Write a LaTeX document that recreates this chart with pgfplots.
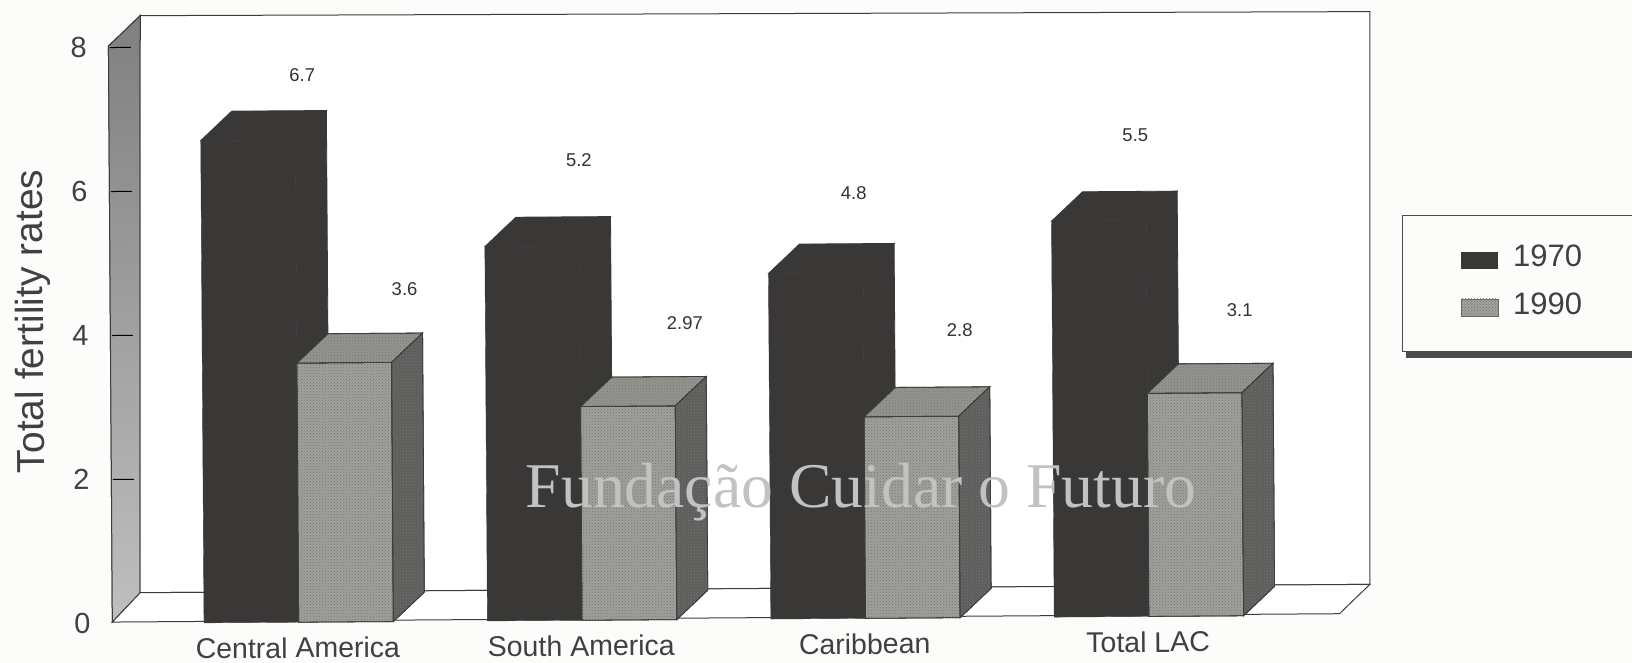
\documentclass[border=0pt]{standalone}
\usepackage{fontspec}
\usepackage{pgfplots}
\usepackage{pgfplotstable}
\usetikzlibrary{patterns}
\pgfplotsset{compat=1.18}
\setmainfont{Liberation Sans}
\newfontfamily\serifmark{Liberation Serif}
\definecolor{darkbar}{HTML}{3A3737}
\definecolor{lightbar}{HTML}{A0A09C}
\definecolor{lighttop}{HTML}{95958F}
\definecolor{lightside}{HTML}{5E5E5C}
\definecolor{edge}{HTML}{3C3C3C}
\definecolor{paper}{HTML}{FCFCFA}

\pgfplotstableread{
x  y
0  6.7
1  5.2
2  4.8
3  5.5
}\seventy
\pgfplotstableread{
x  y
0  3.6
1  2.97
2  2.8
3  3.1
}\ninety

% depth of the extruded bars in data units, and width of a bar
\def\dx{0.11}
\def\dy{0.405}
\def\bw{0.334}

% top and right faces of an extruded bar: left edge, value, two colours, outline, grain
\newcommand{\barfaces}[6]{%
  \pgfmathsetmacro{\xa}{#1+0.0035}%
  \pgfmathsetmacro{\xb}{#1+0.0035+\bw}%
  \pgfmathsetmacro{\xc}{#1+0.0035+\bw+\dx}%
  \pgfmathsetmacro{\xd}{#1+0.0035+\dx}%
  \pgfmathsetmacro{\yt}{#2+\dy}%
  \addplot[draw=#5,line width=0.8pt,fill=#3,#6] coordinates {(\xa,#2)(\xd,\yt)(\xc,\yt)(\xb,#2)} -- cycle;
  \addplot[draw=#5,line width=0.8pt,fill=#4,#6] coordinates {(\xb,0)(\xb,#2)(\xc,\yt)(\xc,\dy)} -- cycle;
}
\tikzset{
  vallabel/.style={text=black!80,font=\fontsize{18.5}{20}\selectfont},
  grain/.style={postaction={pattern=crosshatch dots,pattern color=black!55}},
}

\begin{document}
\begin{tikzpicture}[x=1pt,y=1pt]
\useasboundingbox (0,0) rectangle (1632,663);
\fill[paper] (0,0) rectangle (1632,663);
\begin{scope}[rotate around={0.39:(112,41)},transform shape]
\begin{axis}[
  at={(0,0)},anchor=south west,
  scale only axis,width=1632pt,height=663pt,
  xmin=-1.0504,xmax=4.708,ymin=-0.5486,ymax=8.66,
  axis line style={draw=none},
  axis x line*=bottom,axis y line*=left,
  major tick length=0pt,minor tick num=0,
  xtick={0,1,2,3},
  xticklabels={Central America,South America,Caribbean,Total LAC},
  ytick={0,2,4,6,8},
  /pgf/number format/assume math mode=true,
  ticklabel style={text=black!75},
  xticklabel style={font=\fontsize{28.5}{30}\selectfont,yshift=28pt},
  yticklabel style={font=\fontsize{29}{30}\selectfont,xshift=94pt},
  ylabel={Total fertility rates},
  every axis y label/.style={at={(axis description cs:0.0215,0.516)},rotate=90,anchor=center,
    font=\fontsize{39}{40}\selectfont,text=black!75},
  clip=false,
]
% left wall, back wall and floor
\addplot[draw=edge,line width=1pt,top color=black!50,bottom color=black!25,grain] coordinates
  {(-0.654,0.02)(-0.654,8.02)(-0.541,8.44)(-0.555,0.425)} -- cycle;
\addplot[draw=edge,line width=1pt,fill=white] coordinates
  {(-0.541,8.44)(3.798,8.38)(3.784,0.425)(-0.555,0.425)} -- cycle;
\addplot[draw=edge,line width=1pt,fill=white] coordinates
  {(-0.654,0.02)(-0.555,0.425)(3.784,0.425)(3.676,0.02)} -- cycle;
% short rules on the left wall
\addplot[black,line width=1pt] coordinates {(-0.649,2)(-0.575,2)};
\addplot[black,line width=1pt] coordinates {(-0.649,4)(-0.575,4)};
\addplot[black,line width=1pt] coordinates {(-0.649,6)(-0.575,6)};
\addplot[black,line width=1pt] coordinates {(-0.649,8)(-0.575,8)};

% 1970 series
\addplot[ybar,bar width=94.7pt,bar shift=-46.35pt,fill=darkbar,draw=darkbar] table[x=x,y=y]{\seventy};
\barfaces{-0.334}{6.7}{darkbar}{darkbar}{darkbar}{}
\barfaces{0.666}{5.2}{darkbar}{darkbar}{darkbar}{}
\barfaces{1.666}{4.8}{darkbar}{darkbar}{darkbar}{}
\barfaces{2.666}{5.5}{darkbar}{darkbar}{darkbar}{}
% 1990 series
\addplot[ybar,bar width=94.7pt,bar shift=48.35pt,fill=lightbar,draw=edge,line width=0.8pt,grain] table[x=x,y=y]{\ninety};
\barfaces{0}{3.6}{lighttop}{lightside}{edge}{grain}
\barfaces{1}{2.97}{lighttop}{lightside}{edge}{grain}
\barfaces{2}{2.8}{lighttop}{lightside}{edge}{grain}
\barfaces{3}{3.1}{lighttop}{lightside}{edge}{grain}

% value labels
\node[vallabel] at (axis cs:0.029,7.595) {6.7};
\node[vallabel] at (axis cs:0.385,4.618) {3.6};
\node[vallabel] at (axis cs:1.003,6.396) {5.2};
\node[vallabel] at (axis cs:1.373,4.114) {2.97};
\node[vallabel] at (axis cs:1.972,5.907) {4.8};
\node[vallabel] at (axis cs:2.343,4.001) {2.8};
\node[vallabel] at (axis cs:2.967,6.69) {5.5};
\node[vallabel] at (axis cs:3.331,4.25) {3.1};
\end{axis}
\end{scope}

% legend box, running off the right side
\fill[black!70] (1406,305) rectangle (1632,311);
\fill[paper] (1402,311) rectangle (1632,447);
\draw[black!70,line width=1pt] (1632,447) -- (1402,447) -- (1402,311) -- (1632,311);
\fill[darkbar] (1461,394) rectangle (1498,411);
\fill[lightbar,draw=black!60,grain] (1461,347) rectangle (1498,364);
\node[anchor=west,inner sep=0pt,text=black!75,font=\fontsize{31}{32}\selectfont] at (1513,407) {1970};
\node[anchor=west,inner sep=0pt,text=black!75,font=\fontsize{31}{32}\selectfont] at (1513,359) {1990};

% overlaid line of text
\node[anchor=base,inner sep=0pt,text=black!24,font=\serifmark\fontsize{63.7}{66}\selectfont] at (861,155) {Fundação Cuidar o Futuro};
\end{tikzpicture}
\end{document}
